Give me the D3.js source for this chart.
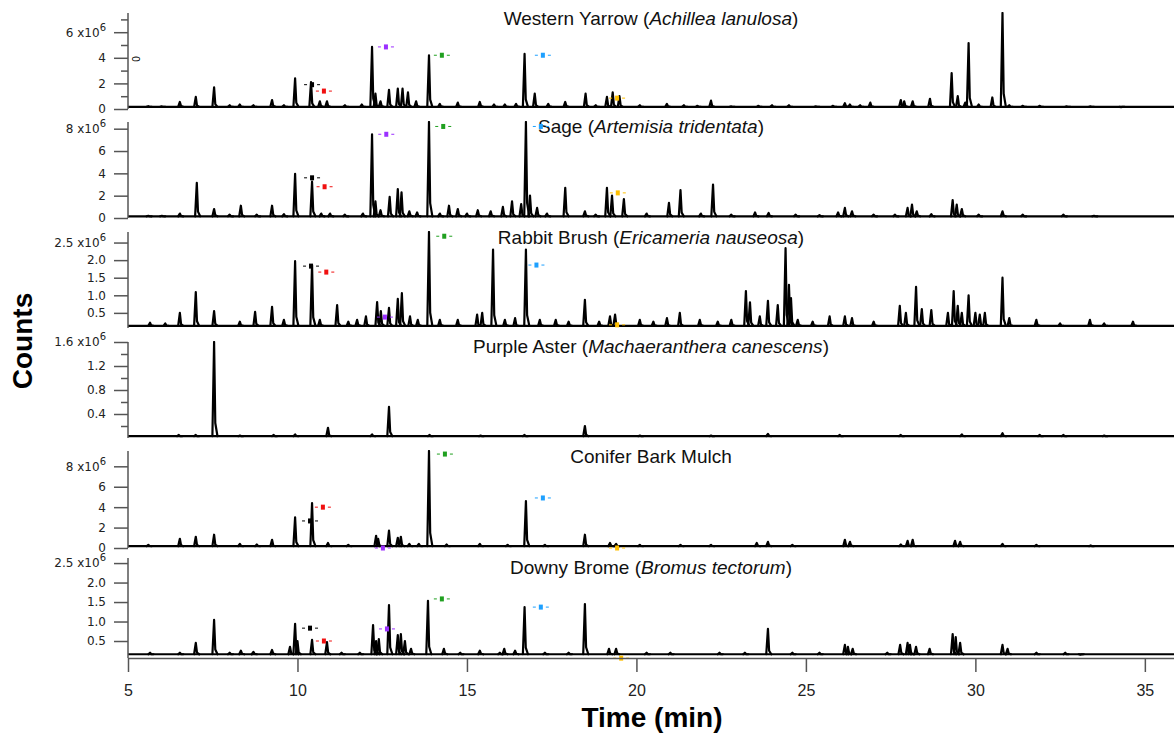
<!DOCTYPE html>
<html>
<head>
<meta charset="utf-8">
<title>Chromatograms of six plant samples</title>
<script src="https://d3js.org/d3.v7.min.js"></script>
<style>
  body, html { margin: 0; padding: 0; background: #fff; }
  svg { display: block; }
  .trace path { fill: none; stroke: #000; stroke-width: 2.2; stroke-linejoin: round; stroke-linecap: round; }
  .axis path, .axis line { stroke: #555; stroke-width: 1.5; }
  .yaxis text { font-family: "DejaVu Sans", sans-serif; font-size: 12px; fill: #222; }
  .xaxis text { font-family: "Liberation Sans", Arial, sans-serif; font-size: 16px; fill: #222; }
  .title { font-family: "Liberation Sans", Arial, sans-serif; font-size: 19px; fill: #111; }
  .big-label { font-family: "Liberation Sans", Arial, sans-serif; font-size: 28px; font-weight: bold; fill: #000; }
</style>
</head>
<body>
<svg width="1174" height="738"></svg>
<script>
// sample names
const commonNames = ["Western Yarrow", "Sage", "Rabbit Brush", "Purple Aster", "Conifer Bark Mulch", "Downy Brome"];
const latinNames = ["Achillea lanulosa", "Artemisia tridentata", "Ericameria nauseosa", "Machaeranthera canescens", null, "Bromus tectorum"];

// time axis (min)
const timeTicks = [5, 10, 15, 20, 25, 30, 35];

// y ticks per panel, in units of 1e6 counts
const majorTicks = [
  [0, 2, 4, 6],
  [0, 2, 4, 6, 8],
  [0.5, 1.0, 1.5, 2.0, 2.5],
  [0.4, 0.8, 1.2, 1.6],
  [0, 2, 4, 6, 8],
  [0.5, 1.0, 1.5, 2.0, 2.5]
];
const minorTicks = [
  [1, 3, 5, 7],
  [], [],
  [0.2, 0.6, 1.0, 1.4],
  [], []
];
const tickDecimals = [0, 0, 1, 1, 0, 1];

// baseline level of each trace (1e6 counts)
const baselines = [0.17, 0.15, 0.13, 0.03, 0.18, 0.16];

// peaks: [retention time (min), apex height (1e6 counts)]
const yarrowPeaks = [
  [5.6, 0.22], [6.0, 0.2], [6.53, 0.55], [7.0, 0.95], [7.54, 1.7], [8.0, 0.3], [8.3, 0.35], [8.7, 0.3],
  [9.25, 0.7], [9.6, 0.3], [9.93, 2.4], [10.4, 2.1], [10.66, 0.6], [10.87, 0.6], [11.4, 0.3],
  [11.9, 0.35], [12.2, 4.85], [12.3, 1.2], [12.45, 0.6], [12.7, 1.5], [12.96, 1.6], [13.1, 1.6], [13.26, 1.3],
  [13.5, 0.6], [13.88, 4.2], [14.2, 0.4], [14.73, 0.5], [15.38, 0.55], [15.8, 0.35], [16.12, 0.35],
  [16.45, 0.4], [16.7, 4.3], [17.0, 1.2], [17.4, 0.4], [17.9, 0.55], [18.5, 1.2], [18.8, 0.3],
  [19.13, 0.95], [19.3, 1.3], [19.5, 1.0], [20.1, 0.3], [20.9, 0.4], [21.4, 0.3], [21.8, 0.25], [22.2, 0.65],
  [22.8, 0.2], [23.6, 0.25], [24.0, 0.3], [24.5, 0.3], [25.3, 0.2], [25.8, 0.25], [26.15, 0.45],
  [26.3, 0.35], [26.6, 0.3], [26.9, 0.5], [27.8, 0.7], [27.9, 0.6], [28.15, 0.6], [28.66, 0.8],
  [29.3, 2.8], [29.48, 1.0], [29.7, 0.5], [29.8, 5.15], [30.1, 0.35], [30.5, 0.9], [30.8, 7.5],
  [31.0, 0.3], [31.4, 0.25], [31.9, 0.25], [32.7, 0.2], [33.4, 0.2], [34.3, 0.15]
];
const sagePeaks = [
  [5.6, 0.2], [6.0, 0.2], [6.53, 0.4], [7.03, 3.15], [7.54, 0.8], [8.0, 0.3], [8.33, 1.1], [8.8, 0.3],
  [9.25, 1.1], [9.6, 0.35], [9.93, 3.95], [10.43, 3.25], [10.7, 0.4], [10.96, 0.4], [11.4, 0.3],
  [11.93, 0.4], [12.2, 7.5], [12.3, 1.5], [12.45, 0.7], [12.72, 1.9], [12.96, 2.6], [13.07, 2.3],
  [13.3, 0.6], [13.53, 0.5], [13.88, 8.6], [14.2, 0.4], [14.47, 1.1], [14.73, 0.8], [15.0, 0.4],
  [15.32, 0.7], [15.7, 0.6], [16.06, 1.0], [16.33, 1.5], [16.6, 1.25], [16.74, 8.6], [16.86, 2.0],
  [17.07, 0.9], [17.36, 0.4], [17.9, 2.7], [18.48, 0.6], [18.8, 0.3], [19.13, 2.7], [19.28, 2.0],
  [19.63, 1.7], [20.3, 0.4], [20.96, 1.35], [21.3, 2.5], [21.9, 0.4], [22.26, 3.0], [22.8, 0.3],
  [23.5, 0.5], [23.9, 0.45], [24.7, 0.3], [25.4, 0.25], [25.95, 0.5], [26.15, 0.9], [26.36, 0.6],
  [27.0, 0.3], [27.63, 0.3], [28.0, 0.9], [28.13, 1.2], [28.27, 0.6], [28.7, 0.35], [29.33, 1.6],
  [29.45, 1.2], [29.6, 0.8], [30.1, 0.3], [30.8, 0.6], [31.4, 0.3], [32.6, 0.3], [33.5, 0.2]
];
const rabbitPeaks = [
  [5.65, 0.22], [6.1, 0.2], [6.53, 0.5], [7.0, 1.09], [7.54, 0.55], [8.3, 0.25], [8.75, 0.53],
  [9.25, 0.67], [9.6, 0.3], [9.93, 1.97], [10.43, 1.86], [10.66, 0.3], [11.17, 0.72], [11.5, 0.25],
  [11.76, 0.3], [12.02, 0.4], [12.35, 0.81], [12.46, 0.55], [12.7, 0.64], [12.96, 0.9], [13.08, 1.06],
  [13.32, 0.4], [13.55, 0.3], [13.88, 2.8], [14.2, 0.3], [14.73, 0.3], [15.3, 0.45], [15.45, 0.5],
  [15.77, 2.3], [16.12, 0.3], [16.42, 0.35], [16.74, 2.3], [17.15, 0.3], [17.62, 0.3], [18.0, 0.25],
  [18.48, 0.87], [18.9, 0.25], [19.22, 0.4], [19.37, 0.45], [20.1, 0.3], [20.5, 0.25], [20.9, 0.35],
  [21.28, 0.5], [21.87, 0.3], [22.4, 0.25], [22.8, 0.3], [23.23, 1.12], [23.35, 0.8], [23.64, 0.4],
  [23.88, 0.84], [24.17, 0.72], [24.4, 2.34], [24.5, 1.3], [24.56, 0.92], [24.76, 0.3], [25.2, 0.25],
  [25.7, 0.4], [26.15, 0.4], [26.36, 0.35], [27.0, 0.25], [27.77, 0.7], [27.95, 0.5], [28.25, 1.24],
  [28.42, 0.61], [28.7, 0.58], [29.19, 0.5], [29.36, 1.12], [29.48, 0.7], [29.6, 0.5], [29.8, 1.0],
  [30.0, 0.5], [30.13, 0.45], [30.28, 0.5], [30.8, 1.5], [31.0, 0.35], [31.8, 0.3], [32.5, 0.2],
  [33.38, 0.3], [33.8, 0.2], [34.65, 0.25]
];
const asterPeaks = [
  [6.5, 0.05], [7.0, 0.05], [7.54, 1.6], [8.3, 0.04], [9.3, 0.05], [9.93, 0.06], [10.9, 0.17],
  [12.2, 0.06], [12.7, 0.52], [13.9, 0.05], [15.4, 0.04], [16.7, 0.05], [18.48, 0.2], [20.1, 0.04],
  [22.2, 0.04], [23.88, 0.07], [26.0, 0.05], [27.8, 0.05], [29.6, 0.06], [30.8, 0.08], [31.9, 0.05],
  [32.6, 0.05], [33.8, 0.04]
];
const coniferPeaks = [
  [5.6, 0.3], [6.53, 0.9], [7.0, 1.1], [7.54, 1.3], [8.3, 0.4], [8.8, 0.35], [9.25, 0.8], [9.93, 3.0],
  [10.43, 4.4], [10.9, 0.5], [11.5, 0.3], [12.32, 1.2], [12.38, 0.9], [12.7, 1.7], [12.96, 1.0],
  [13.05, 1.1], [13.3, 0.4], [13.58, 0.4], [13.88, 9.5], [14.4, 0.35], [15.38, 0.4], [16.2, 0.3],
  [16.74, 4.6], [17.3, 0.3], [18.48, 1.3], [19.22, 0.5], [19.4, 0.4], [20.1, 0.3], [21.3, 0.3],
  [22.2, 0.3], [23.55, 0.5], [23.88, 0.6], [24.6, 0.3], [26.15, 0.8], [26.3, 0.6], [27.8, 0.35],
  [28.0, 0.7], [28.15, 0.8], [29.4, 0.7], [29.55, 0.6], [30.8, 0.4], [31.8, 0.3], [33.4, 0.25]
];
const bromePeaks = [
  [5.65, 0.2], [6.53, 0.2], [7.0, 0.45], [7.54, 1.04], [8.0, 0.2], [8.33, 0.25], [8.7, 0.22],
  [9.25, 0.27], [9.78, 0.35], [9.93, 0.94], [10.0, 0.5], [10.43, 0.53], [10.87, 0.47], [11.3, 0.2],
  [11.84, 0.2], [12.23, 0.91], [12.32, 0.5], [12.4, 0.55], [12.7, 1.42], [12.96, 0.65], [13.05, 0.68],
  [13.17, 0.5], [13.35, 0.3], [13.85, 1.53], [14.32, 0.3], [14.8, 0.2], [15.38, 0.25], [15.97, 0.2],
  [16.1, 0.3], [16.42, 0.25], [16.7, 1.37], [17.3, 0.2], [18.0, 0.2], [18.48, 1.45], [19.19, 0.3],
  [19.4, 0.3], [20.3, 0.2], [21.0, 0.2], [22.45, 0.2], [23.2, 0.2], [23.88, 0.81], [24.6, 0.2],
  [25.4, 0.2], [26.15, 0.4], [26.24, 0.35], [26.38, 0.3], [27.4, 0.2], [27.78, 0.4], [28.0, 0.45],
  [28.07, 0.4], [28.25, 0.35], [28.65, 0.3], [29.33, 0.68], [29.42, 0.6], [29.55, 0.45], [30.8, 0.4],
  [30.95, 0.3], [31.8, 0.2], [32.65, 0.2], [33.1, 0.15]
];
const panelPeaks = [yarrowPeaks, sagePeaks, rabbitPeaks, asterPeaks, coniferPeaks, bromePeaks];

// marker compounds: black, red, purple, green, blue, orange
const markerColors = ["#000000", "#f01010", "#9b30ff", "#20a020", "#1ea0ff", "#ffbf00"];
// [time (min), counts (1e6)] in the same colour order
const yarrowMarks = [[10.43, 1.9], [10.78, 1.4], [12.61, 4.85], [14.26, 4.2], [17.24, 4.2], [19.43, 0.85]];
const sageMarks = [[10.43, 3.6], [10.8, 2.8], [12.62, 7.5], [14.3, 8.2], [17.18, 8.2], [19.45, 2.25]];
const rabbitMarks = [[10.4, 1.83], [10.85, 1.66], [12.58, 0.38], [14.33, 2.68], [17.05, 1.86], [19.43, 0.16]];
const asterMarks = [];
const coniferMarks = [[10.37, 2.65], [10.75, 4.0], [12.52, 0.0], [14.35, 9.2], [17.24, 4.9], [19.43, 0.0]];
const bromeMarks = [[10.37, 0.83], [10.78, 0.5], [12.64, 0.81], [14.26, 1.58], [17.18, 1.37], [19.55, 0.06]];
const panelMarks = [yarrowMarks, sageMarks, rabbitMarks, asterMarks, coniferMarks, bromeMarks];

// ---------- layout ----------
const svg = d3.select("svg");
const left = 128, right = 1174;
// vertical extent and y domain of each panel (px / 1e6 counts)
const panelBox = [
  { top: 13, bottom: 109, domain: [0, 7.5] },
  { top: 122, bottom: 218, domain: [0, 8.6] },
  { top: 232, bottom: 328, domain: [0.07, 2.8] },
  { top: 342, bottom: 438, domain: [0, 1.6] },
  { top: 451, bottom: 548, domain: [0, 9.5] },
  { top: 558, bottom: 658, domain: [0.064, 2.63] }
];
const titleBaselines = [25, 133, 244, 353, 463, 574];

const x = d3.scaleLinear().domain([5, 35.86]).range([left, right]);

const defs = svg.append("defs");

panelBox.forEach((box, i) => {
  const y = d3.scaleLinear().domain(box.domain).range([box.bottom, box.top]);
  const g = svg.append("g").attr("class", "panel");

  defs.append("clipPath").attr("id", "clip" + i)
    .append("rect").attr("x", left).attr("y", box.top - 1)
    .attr("width", right - left).attr("height", box.bottom - box.top + 3);

  // trace: baseline + one spike per peak (sharp front, short tail)
  const line = d3.line().x(d => x(d[0])).y(d => y(d[1]));
  const base = baselines[i];
  const trace = g.append("g").attr("class", "trace").attr("clip-path", `url(#clip${i})`);
  trace.append("path").attr("d", line([[5, base], [35.86, base]]));
  trace.selectAll("path.peak")
    .data(panelPeaks[i])
    .enter().append("path")
    .attr("class", "peak")
    .attr("d", p => line([
      [p[0] - 0.05, base],
      [p[0], p[1]],
      [p[0] + 0.035, base + (p[1] - base) * 0.14],
      [p[0] + 0.1, base]
    ]));

  // y axis
  const maxTick = d3.max(majorTicks[i]);
  const yAxis = d3.axisLeft(y)
    .tickValues(majorTicks[i])
    .tickSize(14)
    .tickSizeOuter(0)
    .tickPadding(8)
    .tickFormat(v => v.toFixed(tickDecimals[i]));
  const ax = g.append("g").attr("class", "axis yaxis")
    .attr("transform", `translate(${left},0)`)
    .call(yAxis);
  ax.select(".domain").attr("d", `M0,${box.top}V${box.bottom}`);
  ax.selectAll(".tick text")
    .filter(v => v === maxTick)
    .each(function(v) {
      const t = d3.select(this).text(v.toFixed(tickDecimals[i]) + " x10");
      t.append("tspan").attr("dy", "-0.6em").attr("font-size", "10px").text("6");
    });
  if (minorTicks[i].length) {
    g.append("g").attr("class", "axis yaxis minor")
      .attr("transform", `translate(${left},0)`)
      .call(d3.axisLeft(y).tickValues(minorTicks[i]).tickSize(7).tickSizeOuter(0).tickFormat(""))
      .select(".domain").remove();
  }

  // title
  const title = g.append("text").attr("class", "title")
    .attr("x", 651).attr("y", titleBaselines[i]).attr("text-anchor", "middle");
  title.append("tspan").text(commonNames[i] + (latinNames[i] ? " (" : ""));
  if (latinNames[i]) {
    title.append("tspan").attr("font-style", "italic").text(latinNames[i]);
    title.append("tspan").text(")");
  }

  // compound markers
  const mk = g.append("g").selectAll("g")
    .data(panelMarks[i])
    .enter().append("g")
    .attr("transform", m => `translate(${x(m[0])},${y(m[1])})`)
    .attr("fill", (m, k) => markerColors[k])
    .attr("stroke", (m, k) => markerColors[k]);
  mk.append("rect").attr("x", -2).attr("y", -2.5).attr("width", 4).attr("height", 5).attr("stroke", "none");
  mk.append("line").attr("x1", -8).attr("x2", -5).attr("y1", 0).attr("y2", 0).attr("stroke-width", 1);
  mk.append("line").attr("x1", 5).attr("x2", 8).attr("y1", 0).attr("y2", 0).attr("stroke-width", 1);
});

// stray glyph near the first panel's axis
svg.append("text")
  .attr("transform", "translate(140,59) rotate(-90)")
  .attr("text-anchor", "middle")
  .attr("font-family", "Liberation Sans, Arial")
  .attr("font-size", 10)
  .text("0");

// x axis under the last panel
svg.append("g").attr("class", "axis xaxis")
  .attr("transform", `translate(0,${panelBox[5].bottom})`)
  .call(d3.axisBottom(x).tickValues(timeTicks).tickSize(14).tickSizeOuter(0).tickPadding(13));

svg.append("text").attr("class", "big-label")
  .attr("x", 652).attr("y", 727).attr("text-anchor", "middle")
  .text("Time (min)");

svg.append("text").attr("class", "big-label")
  .attr("transform", "translate(32,341) rotate(-90)")
  .attr("text-anchor", "middle")
  .text("Counts");
</script>
</body>
</html>
